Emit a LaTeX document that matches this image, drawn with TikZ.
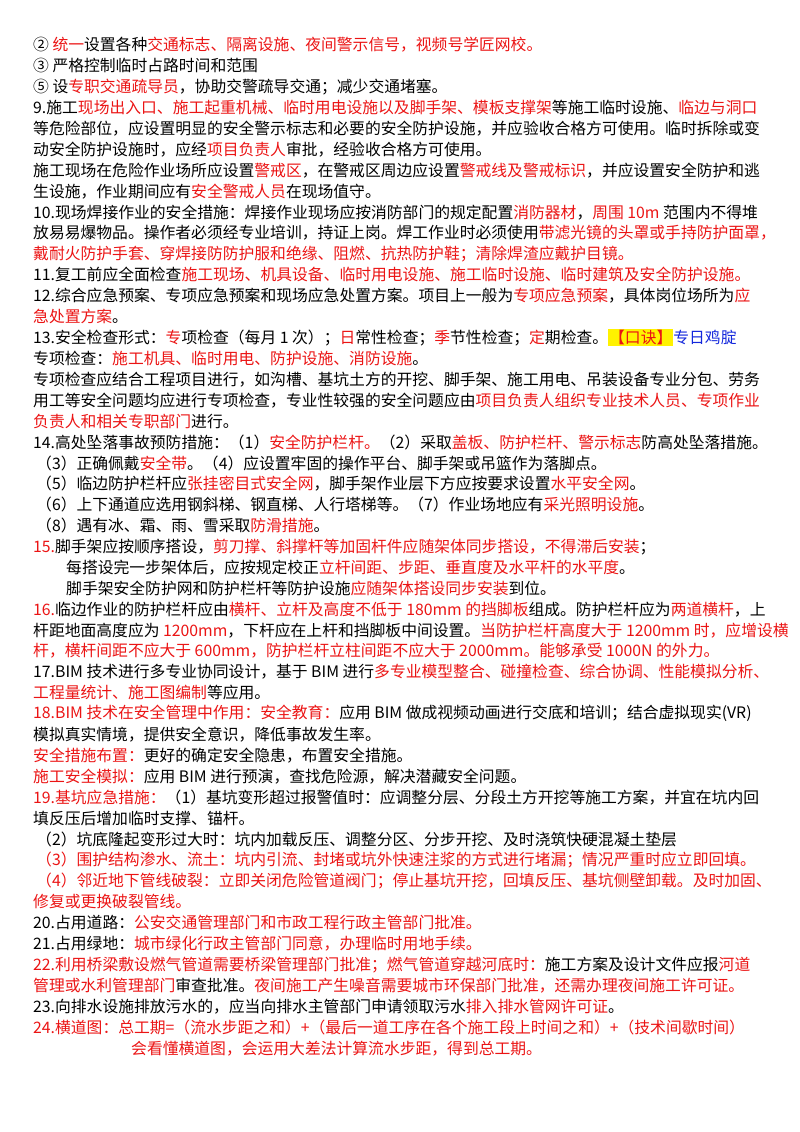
\documentclass[tikz,border=0pt]{standalone}
\usepackage{fontspec}
\setmainfont{Noto Sans CJK SC}
\definecolor{rd}{RGB}{235,20,20}
\definecolor{bl}{RGB}{20,40,220}
\newcommand\rd[1]{\textcolor{rd}{#1}}
\tikzset{ln/.style={anchor=west,inner sep=0pt,font=\fontsize{15.8}{20}\selectfont}}
\begin{document}
\begin{tikzpicture}[x=1pt,y=-1pt]
\useasboundingbox (0,0) rectangle (800,1132);
\def\L#1#2#3{\node[ln] (n#1) at (#2,{45+20.9*(#1-1)}) {#3};}
\L{1}{33}{② \rd{统一}设置各种\rd{交通标志、隔离设施、夜间警示信号，视频号学匠网校。}}
\L{2}{33}{③ 严格控制临时占路时间和范围}
\L{3}{33}{⑤ 设\rd{专职交通疏导员}，协助交警疏导交通；减少交通堵塞。}
\L{4}{33}{9.施工\rd{现场出入口、施工起重机械、临时用电设施以及脚手架、模板支撑架}等施工临时设施、\rd{临边与洞口}}
\L{5}{33}{等危险部位，应设置明显的安全警示标志和必要的安全防护设施，并应验收合格方可使用。临时拆除或变}
\L{6}{33}{动安全防护设施时，应经\rd{项目负责人}审批，经验收合格方可使用。}
\L{7}{33}{施工现场在危险作业场所应设置\rd{警戒区}，在警戒区周边应设置\rd{警戒线及警戒标识}，并应设置安全防护和逃}
\L{8}{33}{生设施，作业期间应有\rd{安全警戒人员}在现场值守。}
\L{9}{33}{10.现场焊接作业的安全措施：焊接作业现场应按消防部门的规定配置\rd{消防器材}，\rd{周围 10m} 范围内不得堆}
\L{10}{33}{放易易爆物品。操作者必须经专业培训，持证上岗。焊工作业时必须使用\rd{带滤光镜的头罩或手持防护面罩，}}
\L{11}{33}{\rd{戴耐火防护手套、穿焊接防防护服和绝缘、阻燃、抗热防护鞋；清除焊渣应戴护目镜。}}
\L{12}{33}{11.复工前应全面检查\rd{施工现场、机具设备、临时用电设施、施工临时设施、临时建筑及安全防护设施。}}
\L{13}{33}{12.综合应急预案、专项应急预案和现场应急处置方案。项目上一般为\rd{专项应急预案}，具体岗位场所为\rd{应}}
\L{14}{33}{\rd{急处置方案}。}
\L{15}{33}{13.安全检查形式：\rd{专}项检查（每月 1 次）；\rd{日}常性检查；\rd{季}节性检查；\rd{定}期检查。{\setlength\fboxsep{1pt}\colorbox{yellow}{\rd{【口诀】}}}\textcolor{bl}{专日鸡腚}}
\L{16}{33}{专项检查：\rd{施工机具、临时用电、防护设施、消防设施}。}
\L{17}{33}{专项检查应结合工程项目进行，如沟槽、基坑土方的开挖、脚手架、施工用电、吊装设备专业分包、劳务}
\L{18}{33}{用工等安全问题均应进行专项检查，专业性较强的安全问题应由\rd{项目负责人组织专业技术人员、专项作业}}
\L{19}{33}{\rd{负责人和相关专职部门}进行。}
\L{20}{33}{14.高处坠落事故预防措施：（1）\rd{安全防护栏杆。}（2）采取\rd{盖板、防护栏杆、警示标志}防高处坠落措施。}
\L{21}{36}{（3）正确佩戴\rd{安全带}。（4）应设置牢固的操作平台、脚手架或吊篮作为落脚点。}
\L{22}{36}{（5）临边防护栏杆应\rd{张挂密目式安全网}，脚手架作业层下方应按要求设置\rd{水平安全网}。}
\L{23}{36}{（6）上下通道应选用钢斜梯、钢直梯、人行塔梯等。（7）作业场地应有\rd{采光照明设施}。}
\L{24}{36}{（8）遇有冰、霜、雨、雪采取\rd{防滑措施}。}
\L{25}{33}{\rd{15.}脚手架应按顺序搭设，\rd{剪刀撑、斜撑杆等加固杆件应随架体同步搭设，不得滞后安装}；}
\L{26}{66}{每搭设完一步架体后，应按规定校正\rd{立杆间距、步距、垂直度及水平杆的水平度}。}
\L{27}{66}{脚手架安全防护网和防护栏杆等防护设施\rd{应随架体搭设同步安装}到位。}
\L{28}{33}{\rd{16.}临边作业的防护栏杆应由\rd{横杆、立杆及高度不低于 180mm 的挡脚板}组成。防护栏杆应为\rd{两道横杆}，上}
\L{29}{33}{杆距地面高度应为 \rd{1200mm}，下杆应在上杆和挡脚板中间设置。\rd{当防护栏杆高度大于 1200mm 时，应增设横}}
\L{30}{33}{\rd{杆，横杆间距不应大于 600mm，防护栏杆立柱间距不应大于 2000mm。能够承受 1000N 的外力。}}
\L{31}{33}{17.BIM 技术进行多专业协同设计，基于 BIM 进行\rd{多专业模型整合、碰撞检查、综合协调、性能模拟分析、}}
\L{32}{33}{\rd{工程量统计、施工图编制}等应用。}
\L{33}{33}{\rd{18.BIM 技术在安全管理中作用：安全教育：}应用 BIM 做成视频动画进行交底和培训；结合虚拟现实(VR)}
\L{34}{33}{模拟真实情境，提供安全意识，降低事故发生率。}
\L{35}{33}{\rd{安全措施布置：}更好的确定安全隐患，布置安全措施。}
\L{36}{33}{\rd{施工安全模拟：}应用 BIM 进行预演，查找危险源，解决潜藏安全问题。}
\L{37}{33}{\rd{19.基坑应急措施：}（1）基坑变形超过报警值时：应调整分层、分段土方开挖等施工方案，并宜在坑内回}
\L{38}{33}{填反压后增加临时支撑、锚杆。}
\L{39}{36}{（2）坑底隆起变形过大时：坑内加载反压、调整分区、分步开挖、及时浇筑快硬混凝土垫层}
\L{40}{36}{\rd{（3）围护结构渗水、流土：坑内引流、封堵或坑外快速注浆的方式进行堵漏；情况严重时应立即回填。}}
\L{41}{36}{\rd{（4）邻近地下管线破裂：立即关闭危险管道阀门；停止基坑开挖，回填反压、基坑侧壁卸载。及时加固、}}
\L{42}{33}{\rd{修复或更换破裂管线。}}
\L{43}{33}{20.占用道路：\rd{公安交通管理部门和市政工程行政主管部门批准。}}
\L{44}{33}{21.占用绿地：\rd{城市绿化行政主管部门同意，办理临时用地手续。}}
\L{45}{33}{\rd{22.利用桥梁敷设燃气管道需要桥梁管理部门批准；燃气管道穿越河底时：}施工方案及设计文件应报\rd{河道}}
\L{46}{33}{\rd{管理或水利管理部门}审查批准。\rd{夜间施工产生噪音需要城市环保部门批准，还需办理夜间施工许可证。}}
\L{47}{33}{23.向排水设施排放污水的，应当向排水主管部门申请领取污水\rd{排入排水管网许可证}。}
\L{48}{33}{\rd{24.横道图：总工期=（流水步距之和）+（最后一道工序在各个施工段上时间之和）+（技术间歇时间）}}
\L{49}{131}{\rd{会看懂横道图，会运用大差法计算流水步距，得到总工期。}}
\end{tikzpicture}
\end{document}
